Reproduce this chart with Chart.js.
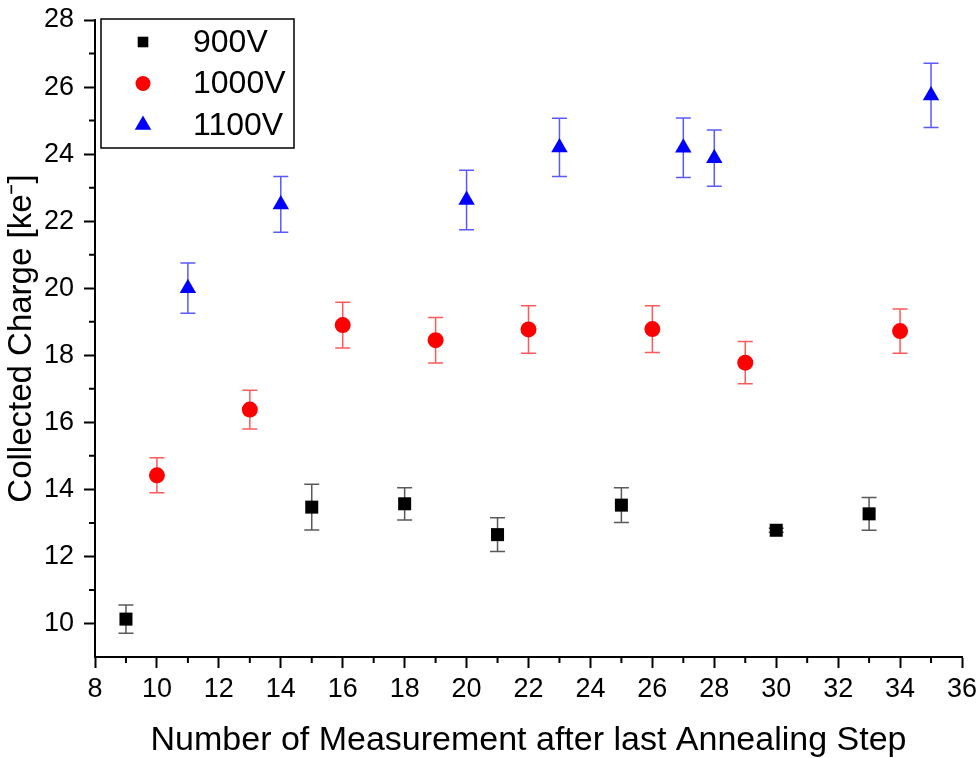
<!DOCTYPE html>
<html>
<head>
<meta charset="utf-8">
<script src="https://cdn.jsdelivr.net/npm/chart.js@4.4.1/dist/chart.umd.min.js"></script>
<style>
  html, body { margin: 0; padding: 0; background: #fff; }
  #wrap { width: 979px; height: 758px; }
</style>
</head>
<body>
<div id="wrap"><canvas id="chart"></canvas></div>
<script>
const x900 = [9, 15, 18, 21, 25, 30, 33];
const y900 = [10.13, 13.47, 13.57, 12.65, 13.53, 12.78, 13.27];
const e900 = [0.42, 0.68, 0.48, 0.5, 0.52, 0.06, 0.49];

const x1000 = [10, 13, 16, 19, 22, 26, 29, 34];
const y1000 = [14.42, 16.38, 18.9, 18.45, 18.77, 18.78, 17.78, 18.72];
const e1000 = [0.52, 0.58, 0.68, 0.68, 0.71, 0.7, 0.63, 0.66];

const x1100 = [11, 14, 20, 23, 27, 28, 35];
const y1100 = [20.0, 22.5, 22.63, 24.2, 24.19, 23.88, 25.75];
const e1100 = [0.75, 0.83, 0.89, 0.87, 0.89, 0.84, 0.96];

const seriesLabels = ["900V", "1000V", "1100V"];
const xTicks = [8, 10, 12, 14, 16, 18, 20, 22, 24, 26, 28, 30, 32, 34, 36];
const yTicks = [10, 12, 14, 16, 18, 20, 22, 24, 26, 28];

const FONT = "Arial, 'Liberation Sans', sans-serif";

function pts(xs, ys, es) {
	return xs.map((x, i) => ({ x: x, y: ys[i], err: es[i] }));
}

// error bars, drawn through the scales
const errorBars = {
	id: "errorBars",
	beforeDatasetsDraw(chart) {
		const ctx = chart.ctx;
		const xs = chart.scales.x;
		const ys = chart.scales.y;
		chart.data.datasets.forEach((ds) => {
			ctx.save();
			ctx.strokeStyle = ds.errColor;
			ctx.lineWidth = 1.5;
			ds.data.forEach((p) => {
				const px = xs.getPixelForValue(p.x);
				const top = ys.getPixelForValue(p.y + p.err);
				const bot = ys.getPixelForValue(p.y - p.err);
				ctx.beginPath();
				ctx.moveTo(px, top);
				ctx.lineTo(px, bot);
				ctx.moveTo(px - 7.5, top);
				ctx.lineTo(px + 7.5, top);
				ctx.moveTo(px - 7.5, bot);
				ctx.lineTo(px + 7.5, bot);
				ctx.stroke();
			});
			ctx.restore();
		});
	},
};

// minor ticks at odd values + boxed legend in the upper left
const extras = {
	id: "extras",
	afterDraw(chart) {
		const ctx = chart.ctx;
		const xs = chart.scales.x;
		const ys = chart.scales.y;
		const area = chart.chartArea;
		ctx.save();
		ctx.strokeStyle = "#000";
		ctx.lineWidth = 2;
		ctx.beginPath();
		for (let v = 9; v < 36; v += 2) {
			const px = xs.getPixelForValue(v);
			ctx.moveTo(px, area.bottom);
			ctx.lineTo(px, area.bottom + 6);
		}
		for (let v = 11; v < 28; v += 2) {
			const py = ys.getPixelForValue(v);
			ctx.moveTo(area.left, py);
			ctx.lineTo(area.left - 6, py);
		}
		ctx.stroke();

		// legend box
		const lx = 101, ly = 19, lw = 193, lh = 129;
		ctx.lineWidth = 1.5;
		ctx.strokeStyle = "#000";
		ctx.fillStyle = "#fff";
		ctx.fillRect(lx, ly, lw, lh);
		ctx.strokeRect(lx, ly, lw, lh);
		ctx.font = "32px " + FONT;
		ctx.textBaseline = "middle";
		chart.data.datasets.forEach((ds, i) => {
			const cy = 42 + i * 41.5;
			ctx.fillStyle = ds.backgroundColor;
			ctx.strokeStyle = ds.backgroundColor;
			Chart.helpers.drawPoint(ctx, {
				pointStyle: ds.pointStyle,
				radius: ds.legendRadius,
				rotation: 0,
				borderWidth: 0,
			}, 143, cy);
			ctx.fillStyle = "#000";
			ctx.fillText(ds.label, 193, cy + 1);
		});
		ctx.restore();
	},
};

const ctx = document.getElementById("chart");
const chart = new Chart(ctx, {
	type: "scatter",
	data: {
		datasets: [
			{
				label: seriesLabels[0],
				data: pts(x900, y900, e900),
				pointStyle: "rect",
				pointRadius: 9.2,
				legendRadius: 7.5,
				backgroundColor: "#000000",
				borderColor: "#000000",
				borderWidth: 0,
				errColor: "rgba(0,0,0,0.65)",
			},
			{
				label: seriesLabels[1],
				data: pts(x1000, y1000, e1000),
				pointStyle: "circle",
				pointRadius: 8,
				legendRadius: 7.5,
				backgroundColor: "#ff0000",
				borderColor: "#ff0000",
				borderWidth: 0,
				errColor: "rgba(255,0,0,0.65)",
			},
			{
				label: seriesLabels[2],
				data: pts(x1100, y1100, e1100),
				pointStyle: "triangle",
				pointRadius: 9.5,
				legendRadius: 9.5,
				backgroundColor: "#0000ff",
				borderColor: "#0000ff",
				borderWidth: 0,
				errColor: "rgba(0,0,255,0.65)",
			},
		],
	},
	options: {
		responsive: true,
		maintainAspectRatio: false,
		animation: false,
		showLine: false,
		layout: { padding: { top: 20, right: 17, left: 0, bottom: 0 } },
		plugins: {
			legend: { display: false },
			tooltip: { enabled: false },
		},
		scales: {
			x: {
				type: "linear",
				min: 8,
				max: 36,
				afterBuildTicks: (scale) => {
					scale.ticks = xTicks.map((v) => ({ value: v }));
				},
				afterFit: (scale) => {
					scale.height = 101;
					scale.paddingLeft = 0;
					scale.paddingRight = 0;
				},
				ticks: {
					color: "#000",
					font: { size: 27, family: FONT },
					padding: 5,
					maxRotation: 0,
					autoSkip: false,
				},
				grid: {
					drawOnChartArea: false,
					tickLength: 11,
					tickColor: "#000",
					tickWidth: 2,
				},
				border: { display: true, color: "#000", width: 2 },
				title: {
					display: true,
					text: "Number of Measurement after last Annealing Step",
					color: "#000",
					font: { size: 34, family: FONT, lineHeight: 1.0 },
					padding: { top: 0, bottom: 0 },
				},
			},
			y: {
				type: "linear",
				min: 9,
				max: 28,
				afterBuildTicks: (scale) => {
					scale.ticks = yTicks.map((v) => ({ value: v }));
				},
				afterFit: (scale) => {
					scale.width = 95;
					scale.paddingTop = 0;
					scale.paddingBottom = 0;
				},
				ticks: {
					color: "#000",
					font: { size: 27, family: FONT },
					padding: 10,
					autoSkip: false,
				},
				grid: {
					drawOnChartArea: false,
					tickLength: 11,
					tickColor: "#000",
					tickWidth: 2,
				},
				border: { display: true, color: "#000", width: 2 },
				title: {
					display: true,
					text: "Collected Charge [ke\u207B]",
					color: "#000",
					font: { size: 33, family: FONT },
					padding: { top: 2, bottom: 0 },
				},
			},
		},
	},
	plugins: [errorBars, extras],
});
</script>
</body>
</html>
